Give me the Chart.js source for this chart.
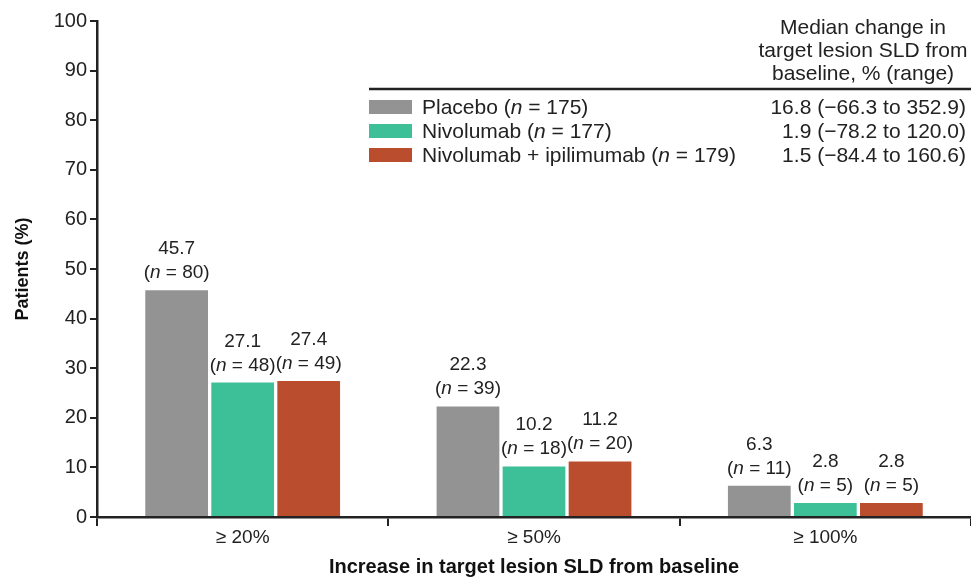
<!DOCTYPE html>
<html>
<head>
<meta charset="utf-8">
<script src="https://cdn.jsdelivr.net/npm/chart.js@4.4.1/dist/chart.umd.min.js"></script>
<style>
	body { margin: 0; background: #fff; }
	#wrap { width: 971px; height: 579px; }
</style>
</head>
<body>
<div id="wrap"><canvas id="myChart"></canvas></div>
<script>
// data
const categories = ['≥ 20%', '≥ 50%', '≥ 100%'];
const seriesNames = ['Placebo', 'Nivolumab', 'Nivolumab + ipilimumab'];
const seriesN = [175, 177, 179];
const medianText = ['16.8 (−66.3 to 352.9)', '1.9 (−78.2 to 120.0)', '1.5 (−84.4 to 160.6)'];
const placebo = [45.7, 22.3, 6.3];
const nivolumab = [27.1, 10.2, 2.8];
const nivoIpi = [27.4, 11.2, 2.8];
const placeboN = [80, 39, 11];
const nivolumabN = [48, 18, 5];
const nivoIpiN = [49, 20, 5];
const yTicks = [0, 10, 20, 30, 40, 50, 60, 70, 80, 90, 100];
const colors = ['#939393', '#3dbf98', '#b94d2e'];

const FONT = '"Liberation Sans", Arial, sans-serif';
const counts = [placeboN, nivolumabN, nivoIpiN];

// draw text made of pieces, some italic
function drawPieces(ctx, pieces, x, y, align, size) {
	var total = 0;
	pieces.forEach(function (p) {
		ctx.font = (p.it ? 'italic ' : '') + size + 'px ' + FONT;
		p.w = ctx.measureText(p.t).width;
		total += p.w;
	});
	var cx = align === 'center' ? x - total / 2 : (align === 'right' ? x - total : x);
	ctx.textAlign = 'left';
	pieces.forEach(function (p) {
		ctx.font = (p.it ? 'italic ' : '') + size + 'px ' + FONT;
		ctx.fillText(p.t, cx, y);
		cx += p.w;
	});
}

const labelPlugin = {
	id: 'barLabels',
	afterDatasetsDraw(chart) {
		const ctx = chart.ctx;
		ctx.save();
		ctx.fillStyle = '#222';
		ctx.textBaseline = 'alphabetic';
		chart.data.datasets.forEach(function (ds, i) {
			const meta = chart.getDatasetMeta(i);
			meta.data.forEach(function (bar, j) {
				const x = bar.x;
				const top = bar.y;
				ctx.font = '19px ' + FONT;
				ctx.textAlign = 'center';
				ctx.fillText(ds.data[j].toFixed(1), x, top - 36);
				drawPieces(ctx, [{t: '('}, {t: 'n', it: true}, {t: ' = ' + counts[i][j] + ')'}], x, top - 12, 'center', 19);
			});
		});
		ctx.restore();
	}
};

const legendPlugin = {
	id: 'customLegend',
	afterDraw(chart) {
		const ctx = chart.ctx;
		ctx.save();
		ctx.fillStyle = '#222';
		ctx.textBaseline = 'alphabetic';
		ctx.font = '21px ' + FONT;
		ctx.textAlign = 'center';
		const hx = 863;
		ctx.fillText('Median change in', hx, 34);
		ctx.fillText('target lesion SLD from', hx, 57);
		ctx.fillText('baseline, % (range)', hx, 80);
		ctx.strokeStyle = '#222';
		ctx.lineWidth = 2.5;
		ctx.beginPath();
		ctx.moveTo(369, 89);
		ctx.lineTo(971, 89);
		ctx.stroke();
		seriesNames.forEach(function (name, i) {
			const y = 107 + i * 24;
			ctx.fillStyle = colors[i];
			ctx.fillRect(369, y - 7, 43, 14);
			ctx.fillStyle = '#222';
			drawPieces(ctx, [{t: name + ' ('}, {t: 'n', it: true}, {t: ' = ' + seriesN[i] + ')'}], 422, y + 7, 'left', 21);
			ctx.font = '21px ' + FONT;
			ctx.textAlign = 'right';
			ctx.fillText(medianText[i], 966, y + 7);
		});
		ctx.restore();
	}
};

var ctx1 = document.getElementById('myChart').getContext('2d');
var myChart = new Chart(ctx1, {
	type: 'bar',
	data: {
		labels: categories,
		datasets: [
			{ label: seriesNames[0], data: placebo, backgroundColor: colors[0] },
			{ label: seriesNames[1], data: nivolumab, backgroundColor: colors[1] },
			{ label: seriesNames[2], data: nivoIpi, backgroundColor: colors[2] }
		]
	},
	options: {
		responsive: true,
		maintainAspectRatio: false,
		animation: false,
		layout: { padding: { top: 21, right: 0, left: 0, bottom: 0 } },
		datasets: {
			bar: { categoryPercentage: 0.68, barPercentage: 0.95 }
		},
		plugins: {
			legend: { display: false },
			tooltip: { enabled: false }
		},
		scales: {
			x: {
				grid: { display: true, drawOnChartArea: false, drawTicks: true, tickLength: 9, color: '#222', lineWidth: 2, offset: true },
				border: { display: true, color: '#222', width: 2.5 },
				ticks: { color: '#222', font: { family: FONT, size: 19 }, padding: 0 },
				title: { display: true, text: 'Increase in target lesion SLD from baseline', color: '#111', font: { family: FONT, size: 20, weight: 'bold' }, padding: { top: 11, bottom: 0 } },
				afterFit: function (scale) { scale.height = 62; }
			},
			y: {
				min: 0,
				max: 100,
				afterBuildTicks: function (scale) { scale.ticks = yTicks.map(function (v) { return { value: v }; }); },
				grid: { display: true, drawOnChartArea: false, drawTicks: true, tickLength: 7, color: '#222', lineWidth: 2 },
				border: { display: true, color: '#222', width: 2.5 },
				ticks: { color: '#222', font: { family: FONT, size: 20 }, padding: 3 },
				title: { display: true, text: 'Patients (%)', color: '#111', font: { family: FONT, size: 18, weight: 'bold' }, padding: { top: 12, bottom: 0 } },
				afterFit: function (scale) { scale.width = 97; }
			}
		}
	},
	plugins: [labelPlugin, legendPlugin]
});
</script>
</body>
</html>
